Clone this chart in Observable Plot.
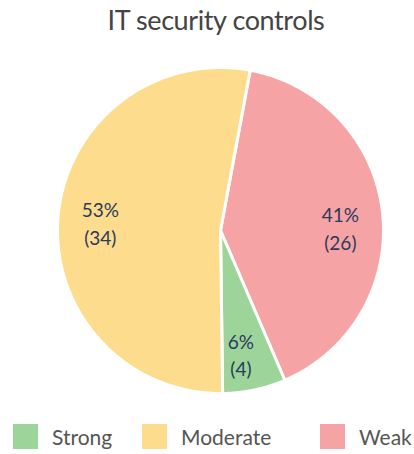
<!DOCTYPE html>
<html>
<head>
<meta charset="utf-8">
<script src="https://cdn.jsdelivr.net/npm/d3@7"></script>
<script src="https://cdn.jsdelivr.net/npm/@observablehq/plot@0.6"></script>
<style>
  body { margin: 0; background: #fff; font-family: Lato, "Open Sans", sans-serif; }
  #wrap { position: relative; width: 414px; height: 454px; overflow: hidden; }
  #title { position: absolute; left: 9px; top: 3px; width: 414px; text-align: center; font-size: 27px; letter-spacing: -0.4px; color: #444; }
  #chart { position: absolute; left: 0; top: 50px; }
  #legend { position: absolute; left: 0; top: 424px; width: 414px; height: 26px; }
  .item { position: absolute; top: 0; display: flex; align-items: center; height: 25px; }
  .sw { width: 25px; height: 25px; margin-right: 14px; }
  .lab { font-size: 21px; color: #555; }
</style>
</head>
<body>
<div id="wrap">
  <div id="title">IT security controls</div>
  <div id="chart"></div>
  <div id="legend"></div>
</div>
<script>
// Data
const categories = ["Strong", "Moderate", "Weak"];
const counts = [4, 34, 26];
const colors = ["#9dd49a", "#fddd8d", "#f6a3a6"];

// layout order (clockwise from start angle)
const drawOrder = ["Weak", "Strong", "Moderate"];
const startDeg = 10.5;

const total = d3.sum(counts);
const rows = drawOrder.map(name => {
  const i = categories.indexOf(name);
  return {name, value: counts[i]};
});

let acc = startDeg * Math.PI / 180;
const slices = rows.map(r => {
  const a0 = acc;
  const a1 = acc + r.value / total * 2 * Math.PI;
  acc = a1;
  return {...r, a0, a1};
});

// polygon points for each slice (unit circle, angle clockwise from top)
const pts = [];
for (const s of slices) {
  pts.push({name: s.name, x: 0, y: 0});
  const n = Math.max(4, Math.ceil((s.a1 - s.a0) / (Math.PI / 180)));
  for (let k = 0; k <= n; k++) {
    const a = s.a0 + (s.a1 - s.a0) * k / n;
    pts.push({name: s.name, x: Math.sin(a), y: Math.cos(a)});
  }
  pts.push({name: s.name, x: 0, y: 0});
}

const W = 414, H = 360, R = 163, cx = 220, cy = 180;

// label placement: centroid at 0.74 r with small pixel nudges
const nudge = {Strong: [-6, 1], Moderate: [0, -2], Weak: [0, -10]};
const labels = slices.map(s => {
  const m = (s.a0 + s.a1) / 2;
  const r = s.name === "Strong" ? 0.78 : 0.74;
  const [ndx, ndy] = nudge[s.name];
  return {
    name: s.name,
    x: r * Math.sin(m) + ndx / R,
    y: r * Math.cos(m) + ndy / R,
    text: Math.round(s.value / total * 100) + "%\n(" + s.value + ")"
  };
});

const plot = Plot.plot({
  width: W,
  height: H,
  margin: 0,
  x: {domain: [-cx / R, (W - cx) / R], axis: null},
  y: {domain: [-(H - cy) / R, cy / R], axis: null},
  color: {domain: categories, range: colors},
  marks: [
    Plot.line(pts, {x: "x", y: "y", z: "name", fill: "name", stroke: "#fff", strokeWidth: 3, strokeLinejoin: "round", curve: "linear"}),
    Plot.text(labels, {x: "x", y: "y", text: "text", fill: "#2b3a5c", fontSize: 19, lineHeight: 1.45, fontFamily: "Lato, sans-serif"})
  ]
});
document.getElementById("chart").appendChild(plot);

// legend
const legendX = [13, 142, 320];
const leg = document.getElementById("legend");
categories.forEach((c, i) => {
  const it = document.createElement("div");
  it.className = "item";
  it.style.left = legendX[i] + "px";
  const sw = document.createElement("div");
  sw.className = "sw";
  sw.style.background = colors[i];
  const lab = document.createElement("span");
  lab.className = "lab";
  lab.textContent = c;
  it.appendChild(sw);
  it.appendChild(lab);
  leg.appendChild(it);
});
</script>
</body>
</html>
